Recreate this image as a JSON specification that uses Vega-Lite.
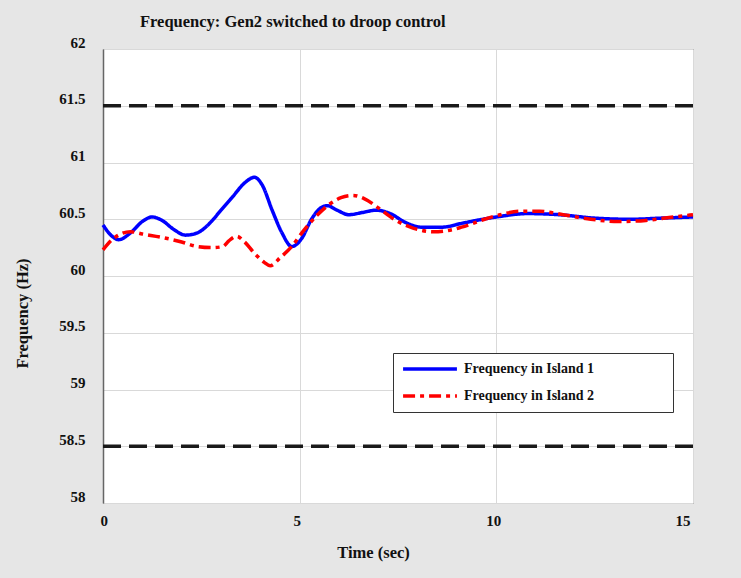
{
  "$schema": "https://vega.github.io/schema/vega-lite/v6.json",
  "autosize": {"type": "none"},
  "width": 590,
  "height": 454,
  "padding": {"left": 103, "top": 49, "right": 48, "bottom": 75},
  "background": "#e6e6e6",
  "title": {
    "text": "Frequency: Gen2 switched to droop control",
    "anchor": "start",
    "frame": "group",
    "dx": 37,
    "offset": 5,
    "font": "Liberation Serif",
    "fontSize": 16.5,
    "fontWeight": "bold",
    "color": "#111"
  },
  "config": {
    "view": {"fill": "white", "stroke": "#444", "strokeWidth": 1},
    "axis": {
      "labelFont": "Liberation Serif",
      "labelFontSize": 15,
      "labelFontWeight": "bold",
      "labelColor": "#111",
      "titleFont": "Liberation Serif",
      "titleFontSize": 16.5,
      "titleFontWeight": "bold",
      "titleColor": "#111",
      "gridColor": "#d9d9d9",
      "gridWidth": 1,
      "domainColor": "#666",
      "ticks": false
    }
  },
  "datasets": {
    "freq": [
      {"t": 0, "f": 60.45, "series": "Frequency in Island 1"},
      {"t": 0.2, "f": 60.36, "series": "Frequency in Island 1"},
      {"t": 0.4, "f": 60.32, "series": "Frequency in Island 1"},
      {"t": 0.7, "f": 60.38, "series": "Frequency in Island 1"},
      {"t": 1.0, "f": 60.48, "series": "Frequency in Island 1"},
      {"t": 1.25, "f": 60.52, "series": "Frequency in Island 1"},
      {"t": 1.5, "f": 60.49, "series": "Frequency in Island 1"},
      {"t": 1.8, "f": 60.41, "series": "Frequency in Island 1"},
      {"t": 2.1, "f": 60.36, "series": "Frequency in Island 1"},
      {"t": 2.4, "f": 60.38, "series": "Frequency in Island 1"},
      {"t": 2.7, "f": 60.46, "series": "Frequency in Island 1"},
      {"t": 3.0, "f": 60.58, "series": "Frequency in Island 1"},
      {"t": 3.3, "f": 60.70, "series": "Frequency in Island 1"},
      {"t": 3.6, "f": 60.82, "series": "Frequency in Island 1"},
      {"t": 3.85, "f": 60.87, "series": "Frequency in Island 1"},
      {"t": 4.05, "f": 60.80, "series": "Frequency in Island 1"},
      {"t": 4.3, "f": 60.58, "series": "Frequency in Island 1"},
      {"t": 4.55, "f": 60.38, "series": "Frequency in Island 1"},
      {"t": 4.8, "f": 60.26, "series": "Frequency in Island 1"},
      {"t": 5.05, "f": 60.33, "series": "Frequency in Island 1"},
      {"t": 5.3, "f": 60.50, "series": "Frequency in Island 1"},
      {"t": 5.5, "f": 60.59, "series": "Frequency in Island 1"},
      {"t": 5.7, "f": 60.62, "series": "Frequency in Island 1"},
      {"t": 5.95, "f": 60.58, "series": "Frequency in Island 1"},
      {"t": 6.25, "f": 60.54, "series": "Frequency in Island 1"},
      {"t": 6.6, "f": 60.56, "series": "Frequency in Island 1"},
      {"t": 6.95, "f": 60.58, "series": "Frequency in Island 1"},
      {"t": 7.3, "f": 60.55, "series": "Frequency in Island 1"},
      {"t": 7.7, "f": 60.47, "series": "Frequency in Island 1"},
      {"t": 8.1, "f": 60.43, "series": "Frequency in Island 1"},
      {"t": 8.6, "f": 60.43, "series": "Frequency in Island 1"},
      {"t": 9.2, "f": 60.47, "series": "Frequency in Island 1"},
      {"t": 10.0, "f": 60.52, "series": "Frequency in Island 1"},
      {"t": 10.8, "f": 60.55, "series": "Frequency in Island 1"},
      {"t": 11.6, "f": 60.54, "series": "Frequency in Island 1"},
      {"t": 12.5, "f": 60.51, "series": "Frequency in Island 1"},
      {"t": 13.4, "f": 60.50, "series": "Frequency in Island 1"},
      {"t": 14.2, "f": 60.51, "series": "Frequency in Island 1"},
      {"t": 15, "f": 60.52, "series": "Frequency in Island 1"},
      {"t": 0, "f": 60.23, "series": "Frequency in Island 2"},
      {"t": 0.2, "f": 60.31, "series": "Frequency in Island 2"},
      {"t": 0.45, "f": 60.37, "series": "Frequency in Island 2"},
      {"t": 0.7, "f": 60.39, "series": "Frequency in Island 2"},
      {"t": 1.0, "f": 60.37, "series": "Frequency in Island 2"},
      {"t": 1.5, "f": 60.34, "series": "Frequency in Island 2"},
      {"t": 2.0, "f": 60.30, "series": "Frequency in Island 2"},
      {"t": 2.4, "f": 60.26, "series": "Frequency in Island 2"},
      {"t": 2.8, "f": 60.25, "series": "Frequency in Island 2"},
      {"t": 3.05, "f": 60.26, "series": "Frequency in Island 2"},
      {"t": 3.2, "f": 60.31, "series": "Frequency in Island 2"},
      {"t": 3.4, "f": 60.35, "series": "Frequency in Island 2"},
      {"t": 3.6, "f": 60.30, "series": "Frequency in Island 2"},
      {"t": 3.85, "f": 60.20, "series": "Frequency in Island 2"},
      {"t": 4.1, "f": 60.12, "series": "Frequency in Island 2"},
      {"t": 4.25, "f": 60.09, "series": "Frequency in Island 2"},
      {"t": 4.5, "f": 60.16, "series": "Frequency in Island 2"},
      {"t": 4.8, "f": 60.26, "series": "Frequency in Island 2"},
      {"t": 5.1, "f": 60.40, "series": "Frequency in Island 2"},
      {"t": 5.4, "f": 60.52, "series": "Frequency in Island 2"},
      {"t": 5.75, "f": 60.63, "series": "Frequency in Island 2"},
      {"t": 6.05, "f": 60.69, "series": "Frequency in Island 2"},
      {"t": 6.35, "f": 60.71, "series": "Frequency in Island 2"},
      {"t": 6.65, "f": 60.68, "series": "Frequency in Island 2"},
      {"t": 7.0, "f": 60.60, "series": "Frequency in Island 2"},
      {"t": 7.4, "f": 60.50, "series": "Frequency in Island 2"},
      {"t": 7.9, "f": 60.42, "series": "Frequency in Island 2"},
      {"t": 8.4, "f": 60.39, "series": "Frequency in Island 2"},
      {"t": 8.9, "f": 60.41, "series": "Frequency in Island 2"},
      {"t": 9.3, "f": 60.45, "series": "Frequency in Island 2"},
      {"t": 9.7, "f": 60.50, "series": "Frequency in Island 2"},
      {"t": 10.1, "f": 60.54, "series": "Frequency in Island 2"},
      {"t": 10.6, "f": 60.57, "series": "Frequency in Island 2"},
      {"t": 11.1, "f": 60.57, "series": "Frequency in Island 2"},
      {"t": 11.7, "f": 60.54, "series": "Frequency in Island 2"},
      {"t": 12.4, "f": 60.50, "series": "Frequency in Island 2"},
      {"t": 13.1, "f": 60.48, "series": "Frequency in Island 2"},
      {"t": 13.8, "f": 60.49, "series": "Frequency in Island 2"},
      {"t": 14.5, "f": 60.52, "series": "Frequency in Island 2"},
      {"t": 15, "f": 60.54, "series": "Frequency in Island 2"}
    ],
    "limits": [{"thr": 61.5}, {"thr": 58.5}]
  },
  "layer": [
    {
      "data": {"name": "limits"},
      "mark": {"type": "rule", "color": "#1a1a1a", "strokeWidth": 3.5, "strokeDash": [18, 8]},
      "encoding": {
        "y": {"field": "thr", "type": "quantitative", "scale": {"domain": [58, 62]}}
      }
    },
    {
      "data": {"name": "freq"},
      "mark": {"type": "line", "interpolate": "monotone", "strokeWidth": 3.5},
      "encoding": {
        "x": {
          "field": "t",
          "type": "quantitative",
          "scale": {"domain": [0, 15], "nice": false},
          "axis": {
            "values": [0, 5, 10, 15],
            "title": "Time (sec)",
            "labelPadding": 10,
            "labelOffset": -3,
            "titleX": 270,
            "titleY": 49,
            "titleBaseline": "middle",
            "titleAnchor": null,
            "titleAlign": "center",
            "domain": false
          }
        },
        "y": {
          "field": "f",
          "type": "quantitative",
          "scale": {"domain": [58, 62], "nice": false, "zero": false},
          "axis": {
            "values": [58, 58.5, 59, 59.5, 60, 60.5, 61, 61.5, 62],
            "labelExpr": "'' + datum.value",
            "title": "Frequency (Hz)",
            "labelPadding": 18,
            "labelOffset": -7,
            "titleAngle": -90,
            "titleX": -81,
            "titleY": 264,
            "titleAlign": "center",
            "titleBaseline": "middle",
            "domainWidth": 1.5
          }
        },
        "color": {
          "field": "series",
          "type": "nominal",
          "scale": {"domain": ["Frequency in Island 1", "Frequency in Island 2"], "range": ["#0000ff", "#ff0000"]},
          "legend": {
            "title": null,
            "orient": "none",
            "legendX": 290,
            "legendY": 304,
            "fillColor": "white",
            "strokeColor": "#333",
            "padding": 8,
            "rowPadding": 11,
            "clipHeight": 16,
            "symbolType": "stroke",
            "symbolSize": 2900,
            "symbolStrokeWidth": 3.5,
            "labelFont": "Liberation Serif",
            "labelFontSize": 14,
            "labelFontWeight": "bold",
            "labelColor": "#111",
            "labelOffset": 5,
            "labelLimit": 400,
            "labelExpr": "datum.label + '\u2003\u2003\u2003\u2003\u2003\u200b'"
          }
        },
        "strokeDash": {
          "field": "series",
          "type": "nominal",
          "scale": {"domain": ["Frequency in Island 1", "Frequency in Island 2"], "range": [[1, 0], [12, 5, 4, 5]]},
          "legend": null
        }
      }
    }
  ]
}
